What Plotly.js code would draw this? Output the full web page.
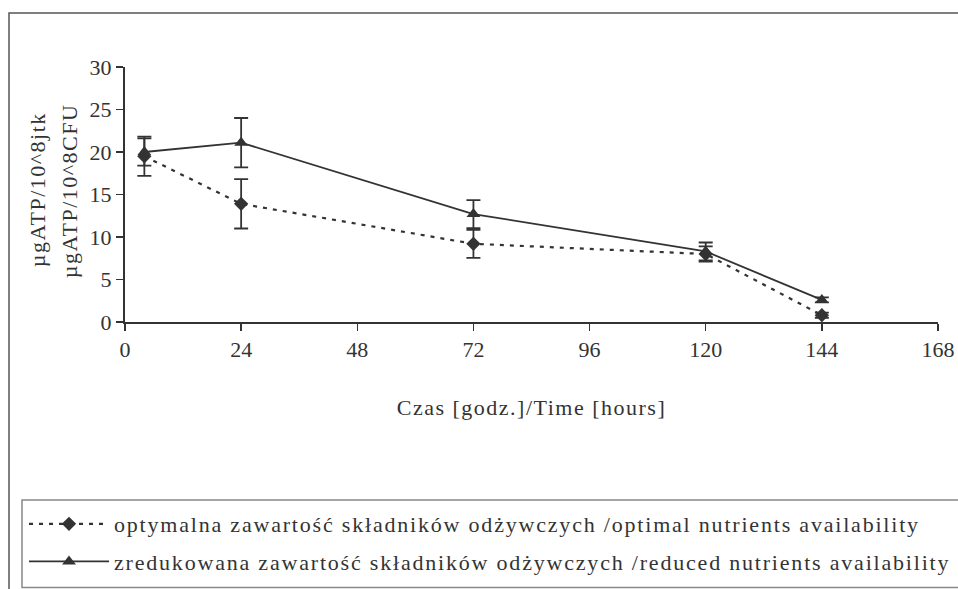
<!DOCTYPE html>
<html>
<head>
<meta charset="utf-8">
<script src="https://cdn.plot.ly/plotly-3.0.1.min.js"></script>
<style>
html,body{margin:0;padding:0;background:#fff;}
#chart{width:958px;height:589px;}
text.xtitle, text.annotation-text { letter-spacing: 1.5px; }
text.legendtext { letter-spacing: 1.8px; }
</style>
</head>
<body>
<div id="chart"></div>
<script>
const hours = [4, 24, 72, 120, 144];
const optimalValues = [19.5, 13.9, 9.2, 8.0, 0.8];
const optimalErrors = [2.3, 2.9, 1.65, 0.9, 0.3];
const reducedValues = [20.0, 21.1, 12.7, 8.3, 2.6];
const reducedErrors = [1.6, 2.9, 1.65, 1.05, 0.3];
const seriesNames = [
  "optymalna zawartość składników odżywczych /optimal nutrients availability",
  "zredukowana zawartość składników odżywczych /reduced nutrients availability"
];
const yTitleLines = ["µgATP/10^8jtk", "µgATP/10^8CFU"];
const xTicks = [0, 24, 48, 72, 96, 120, 144, 168];
const yTicks = [0, 5, 10, 15, 20, 25, 30];

const ink = "#333333";
const font = "Liberation Serif";

const traces = [
  {
    x: hours, y: optimalValues, name: seriesNames[0], type: "scatter", mode: "lines+markers",
    legendgroup: "a",
    line: {color: ink, width: 2.2, dash: "4px,6px"},
    marker: {symbol: "diamond", size: 11, color: ink},
    error_y: {type: "data", array: optimalErrors, visible: true, color: ink, thickness: 1.8, width: 7}
  },
  {
    x: hours, y: reducedValues, name: seriesNames[1], type: "scatter", mode: "lines+markers",
    legendgroup: "b",
    line: {color: ink, width: 1.8},
    marker: {symbol: "triangle-up", size: 12, color: ink},
    error_y: {type: "data", array: reducedErrors, visible: true, color: ink, thickness: 1.8, width: 7}
  }
];

const W = 813, H = 254.7;
const px = v => (v - 125) / W;
const py = v => (321.7 - v) / H;

const layout = {
  width: 958, height: 589,
  margin: {l: 125, r: 20, t: 67, b: 267.3, autoexpand: false},
  paper_bgcolor: "#fff", plot_bgcolor: "#fff",
  font: {family: font, color: ink, size: 22},
  showlegend: true,
  xaxis: {
    range: [0, 168], tickvals: xTicks, ticktext: xTicks.map(String),
    showgrid: false, zeroline: false, showline: true, linecolor: ink, linewidth: 2,
    ticks: "outside", ticklen: 7, tickwidth: 1.5, tickcolor: ink,
    tickfont: {family: font, size: 22, color: ink},
    title: {text: "Czas [godz.]/Time [hours]", font: {family: font, size: 22, color: ink}, standoff: 38}
  },
  yaxis: {
    range: [0, 30], tickvals: yTicks, ticktext: yTicks.map(String),
    showgrid: false, zeroline: false, showline: true, linecolor: ink, linewidth: 2,
    ticks: "outside", ticklen: 7, tickwidth: 1.5, tickcolor: ink,
    tickfont: {family: font, size: 22, color: ink}
  },
  annotations: [
    {text: yTitleLines[0], xref: "paper", yref: "paper",
     x: px(37), y: py(190), xanchor: "center", yanchor: "middle", textangle: -90,
     showarrow: false, font: {family: font, size: 22, color: ink}},
    {text: yTitleLines[1], xref: "paper", yref: "paper",
     x: px(69), y: py(191), xanchor: "center", yanchor: "middle", textangle: -90,
     showarrow: false, font: {family: font, size: 22, color: ink}}
  ],
  shapes: [
    {type: "rect", xref: "paper", yref: "paper", x0: px(9), x1: px(1000), y0: py(620), y1: py(13),
     line: {color: "#555", width: 1.5}, fillcolor: "rgba(0,0,0,0)", layer: "below"},
    {type: "rect", xref: "paper", yref: "paper", x0: px(22), x1: px(1000), y0: py(587), y1: py(499.5),
     line: {color: "#888", width: 1.5}, fillcolor: "rgba(0,0,0,0)", layer: "below"}
  ],
  legend: {
    xref: "container", yref: "container",
    x: 24 / 958, y: 1 - 503 / 589, xanchor: "left", yanchor: "top",
    bgcolor: "rgba(0,0,0,0)", borderwidth: 0,
    font: {family: font, size: 22, color: ink},
    itemwidth: 80, traceorder: "grouped", tracegroupgap: 6
  }
};

Plotly.newPlot("chart", traces, layout, {displayModeBar: false, staticPlot: true});
</script>
</body>
</html>
